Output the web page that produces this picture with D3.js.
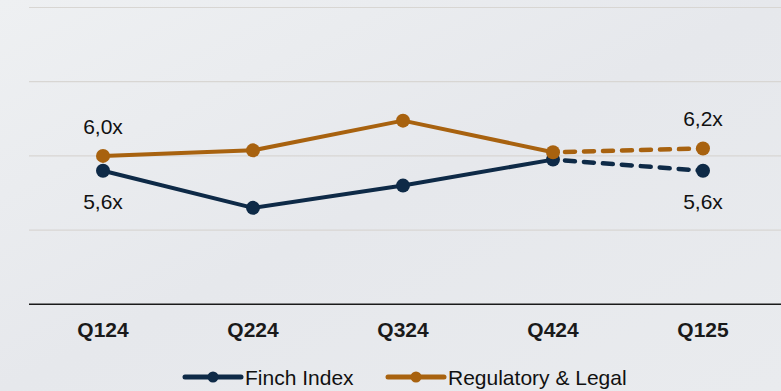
<!DOCTYPE html>
<html>
<head>
<meta charset="utf-8">
<script src="https://cdn.jsdelivr.net/npm/d3@7/dist/d3.min.js"></script>
<style>
  html, body { margin: 0; padding: 0; }
  body { width: 781px; height: 391px; overflow: hidden; background: #e9ebee; }
  svg { display: block; font-family: "Liberation Sans", Arial, sans-serif; }
</style>
</head>
<body>
<svg id="chart" width="781" height="391"></svg>
<script>
// Quarterly multiples (x) for the two series
const quarters = ["Q124", "Q224", "Q324", "Q424", "Q125"];
const finchIndex = [5.6, 4.6, 5.2, 5.9, 5.6];
const regulatoryLegal = [6.0, 6.15, 6.95, 6.1, 6.2];
const gridValues = [4, 6, 8, 10];
// Indices of the points that carry a value label
const labelled = [0, 4];

const W = 781, H = 391;
const svg = d3.select("#chart");

// Soft backdrop with faint diagonal shading
const defs = svg.append("defs");
const bg = defs.append("linearGradient").attr("id", "bg")
  .attr("x1", "0").attr("y1", "0").attr("x2", "1").attr("y2", "1");
bg.append("stop").attr("offset", "0").attr("stop-color", "#eef0f2");
bg.append("stop").attr("offset", "0.5").attr("stop-color", "#e6e8ec");
bg.append("stop").attr("offset", "1").attr("stop-color", "#e9ebee");
svg.append("rect").attr("width", W).attr("height", H).attr("fill", "url(#bg)");

const x = d3.scaleBand().domain(quarters).range([28, 778]);
const y = d3.scaleLinear().domain([2, 10]).range([304.3, 7.5]);
const cx = q => x(q) + x.bandwidth() / 2;

// Horizontal gridlines
svg.append("g").selectAll("line").data(gridValues).join("line")
  .attr("x1", 29).attr("x2", 781)
  .attr("y1", d => y(d)).attr("y2", d => y(d))
  .attr("stroke", "#d8d6d3").attr("stroke-width", 1.2);

// Category axis along the baseline
const xAxis = svg.append("g").attr("transform", `translate(0,${y(2)})`)
  .call(d3.axisBottom(x).tickSize(0));
xAxis.select(".domain").attr("stroke", "#1a1a1a").attr("stroke-width", 1.6)
  .attr("d", "M29,0H781");
xAxis.selectAll("text").attr("y", 32.5).attr("dy", 0)
  .attr("font-size", 21).attr("font-weight", "bold")
  .attr("fill", "#1a1a1a").attr("font-family", "'Liberation Sans', Arial, sans-serif");

const series = [
  { name: "Finch Index", values: finchIndex, color: "#0e2a47", labelBelow: true },
  { name: "Regulatory & Legal", values: regulatoryLegal, color: "#a8620f", labelBelow: false }
];

const line = d3.line().x(d => cx(d.q)).y(d => y(d.v));

series.forEach(s => {
  const pts = quarters.map((q, i) => ({ q, v: s.values[i], i }));
  const g = svg.append("g");
  // Actuals drawn solid, the latest quarter drawn dashed
  g.append("path").datum(pts.slice(0, 4)).attr("d", line)
    .attr("fill", "none").attr("stroke", s.color).attr("stroke-width", 4)
    .attr("stroke-linejoin", "round");
  g.append("path").datum(pts.slice(3)).attr("d", line)
    .attr("fill", "none").attr("stroke", s.color).attr("stroke-width", 4.5)
    .attr("stroke-linecap", "round").attr("stroke-dasharray", "10,9")
    .attr("stroke-dashoffset", -12);
  g.selectAll("circle").data(pts).join("circle")
    .attr("cx", d => cx(d.q)).attr("cy", d => y(d.v)).attr("r", 7)
    .attr("fill", s.color);
  g.selectAll("text").data(pts.filter(d => labelled.includes(d.i))).join("text")
    .attr("x", d => cx(d.q))
    .attr("y", d => y(d.v) + (s.labelBelow ? 38 : -22))
    .attr("text-anchor", "middle").attr("font-size", 21).attr("fill", "#111")
    .text(d => d.v.toFixed(1).replace(".", ",") + "x");
});

// Legend
const legend = svg.append("g").attr("transform", "translate(0,377)");
const items = [
  { s: series[0], x0: 185, tx: 245 },
  { s: series[1], x0: 388, tx: 448 }
];
items.forEach(it => {
  legend.append("line").attr("x1", it.x0).attr("x2", it.x0 + 56)
    .attr("stroke", it.s.color).attr("stroke-width", 5).attr("stroke-linecap", "round");
  legend.append("circle").attr("cx", it.x0 + 28).attr("r", 5.5).attr("fill", it.s.color);
  legend.append("text").attr("x", it.tx).attr("y", 8).attr("font-size", 21)
    .attr("fill", "#111").text(it.s.name);
});
</script>
</body>
</html>
